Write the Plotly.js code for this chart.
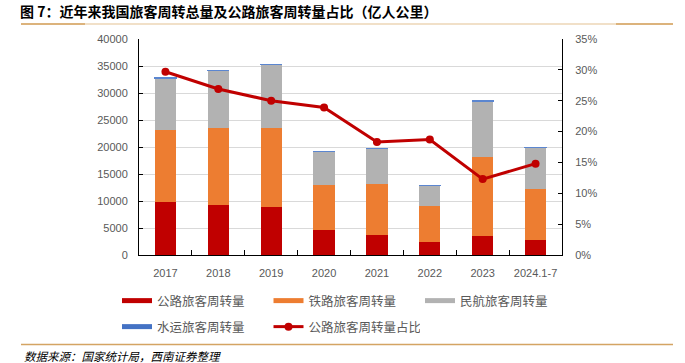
<!DOCTYPE html>
<html>
<head>
<meta charset="utf-8">
<script src="https://cdn.plot.ly/plotly-3.0.1.min.js"></script>
<style>html,body{margin:0;padding:0;background:#fff;}#chart{width:685px;height:363px;}</style>
</head>
<body>
<div id="chart"></div>
<script>
var years = ['2017','2018','2019','2020','2021','2022','2023','2024.1-7'];
var road  = [9765, 9280, 8857, 4641, 3628, 2408, 3443, 2830];
var rail  = [13457, 14147, 14707, 8266, 9568, 6578, 14729, 9390];
var air   = [9513, 10712, 11705, 6311, 6530, 3914, 10309, 7650];
var water = [78, 80, 80, 33, 33, 23, 57, 130];
var share = [29.7, 26.9, 25.0, 23.9, 18.3, 18.7, 12.3, 14.8];

var names = ['公路旅客周转量','铁路旅客周转量','民航旅客周转量','水运旅客周转量','公路旅客周转量占比'];
var colors = ['#c00000','#ed7d31','#b2b2b2','#4472c4'];
var series = [road, rail, air, water];

var traces = [];
series.forEach(function(s, i){
  var mk = {color:colors[i]};
  if (i === 3) mk.line = {color:'#5b86d0', width:1};
  traces.push({type:'bar', x:years, y:s, name:names[i], marker:mk, showlegend:false, hoverinfo:'skip'});
});
traces.push({type:'scatter', mode:'lines+markers', x:years, y:share, yaxis:'y2', name:names[4],
  line:{color:'#c00000', width:3}, marker:{color:'#c00000', size:8}, showlegend:false});

// legend entries
var legendOf = ['legend','legend','legend','legend2'];
for (var i=0;i<4;i++){
  traces.push({type:'scatter', mode:'lines', x:[null], y:[null], name:names[i], legend:legendOf[i],
    line:{color:colors[i], width:5}, showlegend:true});
}
traces.push({type:'scatter', mode:'lines+markers', x:[null], y:[null], name:names[4], legend:'legend2',
  line:{color:'#c00000', width:3}, marker:{color:'#c00000', size:8}, showlegend:true});

var W=685,H=363,L=139,R=123,T=39,B=108;
var pw=W-L-R, ph=H-T-B;
function px(x){return (x-L)/pw;}
function py(y){return (H-B-y)/ph;}

var tickFont = {family:'Liberation Sans, Arial, sans-serif', size:11, color:'#595959'};
var legFont = {family:'Noto Sans CJK SC, sans-serif', size:12.5, color:'#595959'};

var layout = {
  width:W, height:H,
  margin:{l:L, r:R, t:T, b:B, pad:0},
  paper_bgcolor:'#fff', plot_bgcolor:'#fff',
  barmode:'stack', bargap:0.6,
  title:{text:'图 7：近年来我国旅客周转总量及公路旅客周转量占比（亿人公里）', xref:'container', yref:'container',
    x:20/W, xanchor:'left', y:1-12/H, yanchor:'middle',
    font:{family:'Noto Sans CJK SC, sans-serif', size:14, color:'#000', weight:'bold'}},
  xaxis:{type:'category', showgrid:false, showline:true, linecolor:'#000', linewidth:1,
    ticks:'inside', tickson:'boundaries', ticklen:5, tickcolor:'#000', tickfont:tickFont, ticklabelstandoff:8, fixedrange:true},
  yaxis:{range:[0,40000], dtick:5000, tickformat:'d', showgrid:true, gridcolor:'#d9d9d9', gridwidth:1, zeroline:false,
    showline:true, linecolor:'#000', linewidth:1, ticks:'inside', ticklen:4, tickcolor:'#000',
    tickfont:tickFont, ticklabelstandoff:8, fixedrange:true},
  yaxis2:{range:[0,35], dtick:5, ticksuffix:'%', overlaying:'y', side:'right', showgrid:false, zeroline:false,
    showline:true, linecolor:'#000', linewidth:1, ticks:'inside', ticklen:4, tickcolor:'#000',
    tickfont:tickFont, ticklabelstandoff:10, fixedrange:true},
  legend:{orientation:'h', traceorder:'normal', x:px(117), xanchor:'left', y:py(286), yanchor:'top', font:legFont,
    itemwidth:30, entrywidth:106.5, bgcolor:'rgba(0,0,0,0)', itemclick:false, itemdoubleclick:false},
  legend2:{orientation:'h', traceorder:'normal', x:px(117), xanchor:'left', y:py(312), yanchor:'top', font:legFont,
    itemwidth:30, entrywidth:106.5, bgcolor:'rgba(0,0,0,0)', itemclick:false, itemdoubleclick:false},
  shapes:[
    {type:'line', xref:'paper', yref:'paper', x0:px(21), x1:px(673), y0:py(24), y1:py(24), line:{color:'#ecd6b6', width:1.5}},
    {type:'line', xref:'paper', yref:'paper', x0:px(21), x1:px(85), y0:py(24), y1:py(24), line:{color:'#d4a463', width:1.5}},
    {type:'line', xref:'paper', yref:'paper', x0:px(616), x1:px(673), y0:py(24), y1:py(24), line:{color:'#d4a463', width:1.5}},
    {type:'line', xref:'paper', yref:'paper', x0:px(21), x1:px(673), y0:py(344.5), y1:py(344.5), line:{color:'#d4a463', width:1.5}}
  ],
  annotations:[
    {text:'<i>数据来源：国家统计局，西南证券整理</i>', xref:'paper', yref:'paper', x:px(22), y:py(355.5),
     xanchor:'left', yanchor:'middle', showarrow:false,
     font:{family:'Noto Sans CJK SC, sans-serif', size:11.5, color:'#000'}}
  ]
};

Plotly.newPlot('chart', traces, layout, {displayModeBar:false, staticPlot:true});
</script>
</body>
</html>
